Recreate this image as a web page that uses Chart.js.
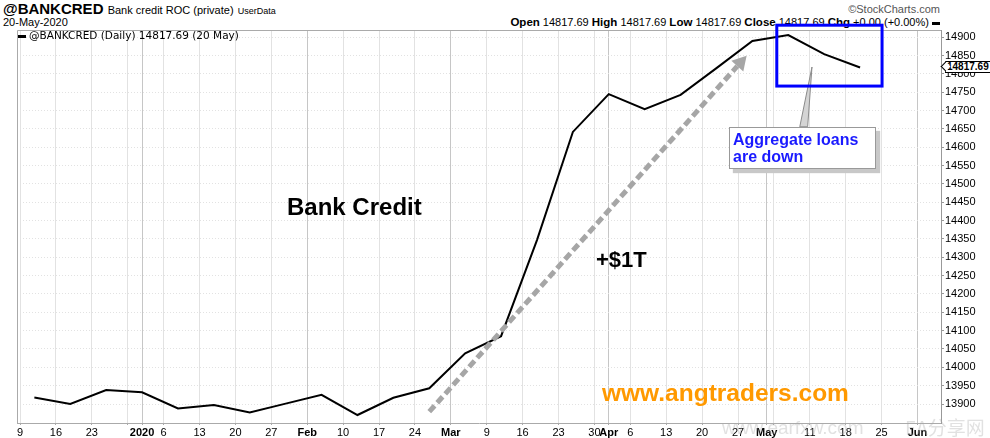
<!DOCTYPE html>
<html>
<head>
<meta charset="utf-8">
<script src="https://cdn.jsdelivr.net/npm/chart.js@4.4.1/dist/chart.umd.min.js"></script>
<style>
body{margin:0;width:990px;height:438px;overflow:hidden;background:#fff;position:relative;font-family:"Liberation Sans",Arial,sans-serif}
#c{position:absolute;left:0;top:0;z-index:2}
.t{position:absolute;white-space:nowrap;line-height:1;z-index:1}
.over{z-index:3}
.bar{display:inline-block;width:8px;height:3px;background:#000;vertical-align:middle;margin-right:3px}
#callout{position:absolute;left:729px;top:127px;width:142px;height:37px;border:1px solid #999;background:#fff;box-shadow:4px 4px 1px #c8c8c8;padding:3px 0 0 3px;z-index:3;color:#1a1aff;font-weight:bold;font-size:16px;line-height:17px}
#tag{position:absolute;left:945px;top:61px;height:10px;border:1px solid #000;background:#fff;font-weight:bold;font-size:10px;line-height:10px;padding:0 1px;z-index:3}
#tag:before{content:"";position:absolute;left:-4px;top:1px;width:6px;height:6px;background:#fff;border-left:1px solid #000;border-bottom:1px solid #000;transform:rotate(45deg)}
</style>
</head>
<body>
<canvas id="c" width="990" height="438"></canvas>

<div class="t" style="left:3px;top:1px;font-size:15px;font-weight:bold">@BANKCRED <span style="font-size:11px;font-weight:normal">Bank credit ROC (private)</span> <span style="font-size:9px;font-weight:normal">UserData</span></div>
<div class="t" style="left:3px;top:17px;font-size:11px">20-May-2020</div>
<div class="t" style="right:50px;top:4px;font-size:11px;color:#555">©StockCharts.com</div>
<div class="t" style="right:50px;top:17px;font-size:11px"><b style="font-size:11.5px">Open</b> 14817.69 <b style="font-size:11.5px">High</b> 14817.69 <b style="font-size:11.5px">Low</b> 14817.69 <b style="font-size:11.5px">Close</b> 14817.69 <b style="font-size:11.5px">Chg</b> +0.00 (+0.00%) <span class="bar" style="margin:0"></span></div>
<div class="t over" style="left:18px;top:30px;font-size:10.5px;font-family:'DejaVu Sans',sans-serif"><span class="bar"></span>@BANKCRED (Daily) 14817.69 (20 May)</div>

<div class="t over" style="left:287px;top:195px;font-size:24px;font-weight:bold">Bank Credit</div>
<div class="t over" style="left:596px;top:249px;font-size:22px;font-weight:bold">+$1T</div>
<div class="t over" style="left:602px;top:381px;font-size:24.5px;font-weight:bold;color:#ff9900">www.angtraders.com</div>
<div id="callout">Aggregate loans<br>are down</div>
<div id="tag">14817.69</div>
<div class="t over" style="left:722px;top:418px;font-size:19px;color:rgba(170,170,170,0.35)">www.earfxw.com</div>
<div class="t over" style="left:905px;top:417px;font-size:19px;color:rgba(170,170,170,0.35);font-family:'Noto Sans CJK SC',sans-serif">EA分享网</div>

<script>
// weekly observations (Wednesdays)
const weekDates = ['2019-12-11','2019-12-18','2019-12-25','2020-01-01','2020-01-08','2020-01-15','2020-01-22','2020-01-29',
  '2020-02-05','2020-02-12','2020-02-19','2020-02-26','2020-03-04','2020-03-11','2020-03-18','2020-03-25',
  '2020-04-01','2020-04-08','2020-04-15','2020-04-22','2020-04-29','2020-05-06','2020-05-13','2020-05-20']
const bankCredit = [13918, 13900, 13938, 13932, 13888, 13897, 13877, 13901,
  13925, 13870, 13917, 13943, 14038, 14085, 14347, 14642,
  14745, 14704, 14743, 14816, 14890, 14906, 14854, 14817.69]

const tickDates = ['2019-12-09','2019-12-16','2019-12-23','2019-12-30','2020-01-01','2020-01-06','2020-01-13','2020-01-20','2020-01-27',
  '2020-02-03','2020-02-10','2020-02-17','2020-02-24','2020-03-02','2020-03-09','2020-03-16','2020-03-23','2020-03-30',
  '2020-04-01','2020-04-06','2020-04-13','2020-04-20','2020-04-27','2020-05-01','2020-05-04','2020-05-11','2020-05-18','2020-05-25','2020-06-01']
const tickLabels = ['9','16','23','','2020','6','13','20','27',
  'Feb','10','17','24','Mar','9','16','23','30',
  'Apr','6','13','20','27','May','','11','18','25','Jun']
const monthLabels = ['2020','Feb','Mar','Apr','May','Jun']
const yTicks = [13900,13950,14000,14050,14100,14150,14200,14250,14300,14350,14400,
  14450,14500,14550,14600,14650,14700,14750,14800,14850,14900]

// annotation anchors in chart units (trading days, value)
const arrowFrom = [57, 13879]
const arrowTo = [101.2, 14850]
const blueBox = [105.4, 14933, 120.06, 14767]
const pointer = [[108.6, 14656], [109.7, 14656], [110.3, 14819]]

// trading-day index counted from Monday 9 Dec 2019
function tradingIndex(s){
  const p = s.split('-').map(Number)
  const days = (Date.UTC(p[0], p[1]-1, p[2]) - Date.UTC(2019, 11, 9)) / 864e5
  return Math.floor(days/7)*5 + Math.min(days%7, 4)
}

const isMonth = i => monthLabels.includes(tickLabels[i])

const frame = {
  id: 'frame',
  beforeDatasetsDraw(chart){
    const {ctx, chartArea: a} = chart
    ctx.save()
    ctx.strokeStyle = '#aaa'
    ctx.lineWidth = 1
    ctx.beginPath()
    ctx.moveTo(a.left+0.5, a.bottom)
    ctx.lineTo(a.left+0.5, a.top+0.5)
    ctx.lineTo(a.right, a.top+0.5)
    ctx.stroke()
    ctx.restore()
  }
}

const notes = {
  id: 'notes',
  afterDatasetsDraw(chart){
    const {ctx, scales: {x, y}} = chart
    ctx.save()
    // dashed grey arrow
    const x0 = x.getPixelForValue(arrowFrom[0]), y0 = y.getPixelForValue(arrowFrom[1])
    const x1 = x.getPixelForValue(arrowTo[0]), y1 = y.getPixelForValue(arrowTo[1])
    const len = Math.hypot(x1-x0, y1-y0), ux = (x1-x0)/len, uy = (y1-y0)/len
    const bx = x1 - ux*14, by = y1 - uy*14
    ctx.strokeStyle = '#a6a6a6'
    ctx.fillStyle = '#a6a6a6'
    ctx.lineWidth = 5
    ctx.setLineDash([8, 4])
    ctx.beginPath()
    ctx.moveTo(x0, y0)
    ctx.lineTo(bx, by)
    ctx.stroke()
    ctx.setLineDash([])
    ctx.beginPath()
    ctx.moveTo(x1, y1)
    ctx.lineTo(bx - uy*8, by + ux*8)
    ctx.lineTo(bx + uy*8, by - ux*8)
    ctx.closePath()
    ctx.fill()

    // callout pointer
    ctx.fillStyle = '#d4d4d4'
    ctx.strokeStyle = '#8a8a8a'
    ctx.lineWidth = 1
    ctx.beginPath()
    pointer.forEach((p, i) => {
      const px = x.getPixelForValue(p[0]), py = y.getPixelForValue(p[1])
      if (i === 0) ctx.moveTo(px, py); else ctx.lineTo(px, py)
    })
    ctx.closePath()
    ctx.fill()
    ctx.stroke()

    // blue box
    const l = x.getPixelForValue(blueBox[0]), t = y.getPixelForValue(blueBox[1])
    const r = x.getPixelForValue(blueBox[2]), b = y.getPixelForValue(blueBox[3])
    ctx.strokeStyle = '#0000ff'
    ctx.lineWidth = 3
    ctx.strokeRect(l, t, r-l, b-t)
    ctx.restore()
  }
}

Chart.defaults.font.family = '"Liberation Sans", Arial, sans-serif'
Chart.defaults.color = '#000'

new Chart(document.getElementById('c'), {
  type: 'line',
  data: {
    datasets: [{
      label: '@BANKCRED',
      data: weekDates.map((d, i) => ({x: tradingIndex(d), y: bankCredit[i]})),
      borderColor: '#000',
      borderWidth: 2,
      pointRadius: 0,
      tension: 0,
      fill: false
    }]
  },
  options: {
    responsive: false,
    animation: false,
    devicePixelRatio: 1,
    layout: {padding: {left: 17, top: 30, right: 0, bottom: 0}},
    plugins: {legend: {display: false}, tooltip: {enabled: false}},
    scales: {
      x: {
        type: 'linear',
        min: -0.418,
        max: 128.27,
        afterBuildTicks: s => { s.ticks = tickDates.map(d => ({value: tradingIndex(d)})) },
        afterFit: s => { s.height = 15 },
        ticks: {
          autoSkip: false,
          maxRotation: 0,
          minRotation: 0,
          padding: 1,
          font: ctx => ({size: 11, weight: isMonth(ctx.index) ? 'bold' : 'normal'}),
          callback: (v, i) => tickLabels[i]
        },
        grid: {
          color: ctx => isMonth(ctx.index) ? '#c6c6c6' : '#e2e2e2',
          tickLength: 2,
          tickColor: '#aaa'
        },
        border: {color: '#aaa'}
      },
      y: {
        position: 'right',
        min: 13848.2,
        max: 14919.9,
        afterBuildTicks: s => { s.ticks = yTicks.map(v => ({value: v})) },
        afterFit: s => { s.width = 49 },
        ticks: {
          padding: 1,
          font: {size: 11},
          callback: v => String(v)
        },
        grid: {color: '#e2e2e2', tickLength: 3, tickColor: '#999'},
        border: {color: '#999', dash: [1, 2]}
      }
    }
  },
  plugins: [frame, notes]
})
</script>
</body>
</html>
